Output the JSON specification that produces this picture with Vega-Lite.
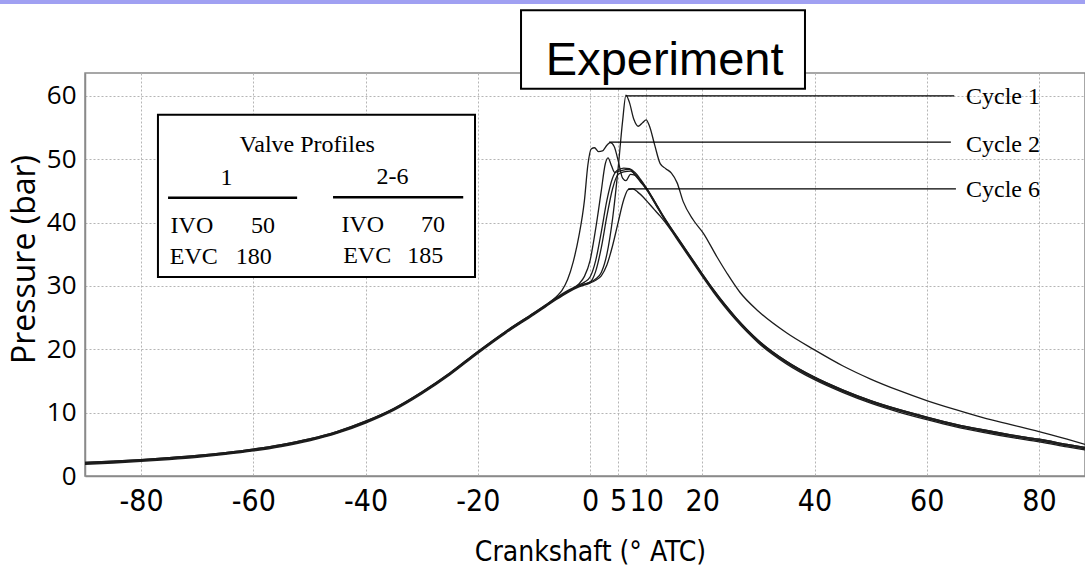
{
  "$schema": "https://vega.github.io/schema/vega-lite/v6.json",
  "width": 1000,
  "height": 403,
  "autosize": "none",
  "padding": {"left": 85, "top": 73, "right": 0, "bottom": 106},
  "background": "white",
  "config": {"view": {"stroke": "#8a8a8a", "strokeWidth": 1.5}},
  "datasets": {
    "cycles": [
      {"cycle":"Cycle 1","angle":-90,"pressure":2.0},{"cycle":"Cycle 1","angle":-85,"pressure":2.2},{"cycle":"Cycle 1","angle":-80,"pressure":2.45},{"cycle":"Cycle 1","angle":-75,"pressure":2.75},{"cycle":"Cycle 1","angle":-70,"pressure":3.1},{"cycle":"Cycle 1","angle":-65,"pressure":3.55},{"cycle":"Cycle 1","angle":-60,"pressure":4.1},{"cycle":"Cycle 1","angle":-55,"pressure":4.8},{"cycle":"Cycle 1","angle":-50,"pressure":5.7},{"cycle":"Cycle 1","angle":-45,"pressure":6.9},{"cycle":"Cycle 1","angle":-40,"pressure":8.5},{"cycle":"Cycle 1","angle":-35,"pressure":10.5},{"cycle":"Cycle 1","angle":-30,"pressure":13.1},{"cycle":"Cycle 1","angle":-25,"pressure":16.1},{"cycle":"Cycle 1","angle":-20,"pressure":19.5},{"cycle":"Cycle 1","angle":-15,"pressure":22.7},{"cycle":"Cycle 1","angle":-10,"pressure":25.6},{"cycle":"Cycle 1","angle":-8,"pressure":26.8},{"cycle":"Cycle 1","angle":-6,"pressure":28.0},{"cycle":"Cycle 1","angle":-4,"pressure":29.1},{"cycle":"Cycle 1","angle":-2,"pressure":30.0},{"cycle":"Cycle 1","angle":0,"pressure":30.6},{"cycle":"Cycle 1","angle":1,"pressure":31.1},{"cycle":"Cycle 1","angle":2,"pressure":32.1},{"cycle":"Cycle 1","angle":3,"pressure":35.0},{"cycle":"Cycle 1","angle":4,"pressure":40.5},{"cycle":"Cycle 1","angle":5,"pressure":48.5},{"cycle":"Cycle 1","angle":5.8,"pressure":56.0},{"cycle":"Cycle 1","angle":6.4,"pressure":60.1},{"cycle":"Cycle 1","angle":7.0,"pressure":59.0},{"cycle":"Cycle 1","angle":7.8,"pressure":56.3},{"cycle":"Cycle 1","angle":8.6,"pressure":55.2},{"cycle":"Cycle 1","angle":9.4,"pressure":55.8},{"cycle":"Cycle 1","angle":10.0,"pressure":56.2},{"cycle":"Cycle 1","angle":10.6,"pressure":55.2},{"cycle":"Cycle 1","angle":11.5,"pressure":52.3},{"cycle":"Cycle 1","angle":12.5,"pressure":49.3},{"cycle":"Cycle 1","angle":13.5,"pressure":48.5},{"cycle":"Cycle 1","angle":14.5,"pressure":47.8},{"cycle":"Cycle 1","angle":15.5,"pressure":46.3},{"cycle":"Cycle 1","angle":16.6,"pressure":43.3},{"cycle":"Cycle 1","angle":18.4,"pressure":40.4},{"cycle":"Cycle 1","angle":20.2,"pressure":38.3},{"cycle":"Cycle 1","angle":22.6,"pressure":34.6},{"cycle":"Cycle 1","angle":24.4,"pressure":32.0},{"cycle":"Cycle 1","angle":26.7,"pressure":29.0},{"cycle":"Cycle 1","angle":30,"pressure":26.0},{"cycle":"Cycle 1","angle":35,"pressure":22.6},{"cycle":"Cycle 1","angle":40,"pressure":19.9},{"cycle":"Cycle 1","angle":45,"pressure":17.4},{"cycle":"Cycle 1","angle":50,"pressure":15.3},{"cycle":"Cycle 1","angle":55,"pressure":13.5},{"cycle":"Cycle 1","angle":60,"pressure":11.9},{"cycle":"Cycle 1","angle":65,"pressure":10.5},{"cycle":"Cycle 1","angle":70,"pressure":9.2},{"cycle":"Cycle 1","angle":75,"pressure":8.1},{"cycle":"Cycle 1","angle":80,"pressure":7.0},{"cycle":"Cycle 1","angle":85,"pressure":5.8},{"cycle":"Cycle 1","angle":88.2,"pressure":5.0},

      {"cycle":"Cycle 2","angle":-90,"pressure":2.15},{"cycle":"Cycle 2","angle":-85,"pressure":2.35},{"cycle":"Cycle 2","angle":-80,"pressure":2.6},{"cycle":"Cycle 2","angle":-75,"pressure":2.9},{"cycle":"Cycle 2","angle":-70,"pressure":3.25},{"cycle":"Cycle 2","angle":-65,"pressure":3.7},{"cycle":"Cycle 2","angle":-60,"pressure":4.25},{"cycle":"Cycle 2","angle":-55,"pressure":4.95},{"cycle":"Cycle 2","angle":-50,"pressure":5.85},{"cycle":"Cycle 2","angle":-45,"pressure":7.05},{"cycle":"Cycle 2","angle":-40,"pressure":8.65},{"cycle":"Cycle 2","angle":-35,"pressure":10.65},{"cycle":"Cycle 2","angle":-30,"pressure":13.25},{"cycle":"Cycle 2","angle":-25,"pressure":16.25},{"cycle":"Cycle 2","angle":-20,"pressure":19.65},{"cycle":"Cycle 2","angle":-15,"pressure":22.85},{"cycle":"Cycle 2","angle":-10,"pressure":25.75},{"cycle":"Cycle 2","angle":-8,"pressure":26.95},{"cycle":"Cycle 2","angle":-6,"pressure":28.3},{"cycle":"Cycle 2","angle":-5,"pressure":29.3},{"cycle":"Cycle 2","angle":-4,"pressure":31.0},{"cycle":"Cycle 2","angle":-3,"pressure":33.8},{"cycle":"Cycle 2","angle":-2,"pressure":37.8},{"cycle":"Cycle 2","angle":-1,"pressure":43.5},{"cycle":"Cycle 2","angle":-0.4,"pressure":49.0},{"cycle":"Cycle 2","angle":0.2,"pressure":51.6},{"cycle":"Cycle 2","angle":0.8,"pressure":51.8},{"cycle":"Cycle 2","angle":1.5,"pressure":51.2},{"cycle":"Cycle 2","angle":2.2,"pressure":51.3},{"cycle":"Cycle 2","angle":3.0,"pressure":52.2},{"cycle":"Cycle 2","angle":3.6,"pressure":52.6},{"cycle":"Cycle 2","angle":4.3,"pressure":52.0},{"cycle":"Cycle 2","angle":5.0,"pressure":49.8},{"cycle":"Cycle 2","angle":5.8,"pressure":47.0},{"cycle":"Cycle 2","angle":6.4,"pressure":46.6},{"cycle":"Cycle 2","angle":7.2,"pressure":47.6},{"cycle":"Cycle 2","angle":8,"pressure":47.5},{"cycle":"Cycle 2","angle":9,"pressure":46.6},{"cycle":"Cycle 2","angle":10,"pressure":45.5},{"cycle":"Cycle 2","angle":11,"pressure":44.1},{"cycle":"Cycle 2","angle":12,"pressure":42.6},{"cycle":"Cycle 2","angle":13,"pressure":41.1},{"cycle":"Cycle 2","angle":14,"pressure":39.7},{"cycle":"Cycle 2","angle":16,"pressure":37.1},{"cycle":"Cycle 2","angle":18,"pressure":34.5},{"cycle":"Cycle 2","angle":20,"pressure":31.9},{"cycle":"Cycle 2","angle":22,"pressure":29.4},{"cycle":"Cycle 2","angle":24,"pressure":27.1},{"cycle":"Cycle 2","angle":26,"pressure":25.0},{"cycle":"Cycle 2","angle":28,"pressure":23.1},{"cycle":"Cycle 2","angle":30,"pressure":21.4},{"cycle":"Cycle 2","angle":35,"pressure":18.1},{"cycle":"Cycle 2","angle":40,"pressure":15.6},{"cycle":"Cycle 2","angle":45,"pressure":13.6},{"cycle":"Cycle 2","angle":50,"pressure":11.9},{"cycle":"Cycle 2","angle":55,"pressure":10.5},{"cycle":"Cycle 2","angle":60,"pressure":9.3},{"cycle":"Cycle 2","angle":65,"pressure":8.2},{"cycle":"Cycle 2","angle":70,"pressure":7.3},{"cycle":"Cycle 2","angle":75,"pressure":6.5},{"cycle":"Cycle 2","angle":80,"pressure":5.8},{"cycle":"Cycle 2","angle":85,"pressure":5.0},{"cycle":"Cycle 2","angle":88.2,"pressure":4.5},

      {"cycle":"Cycle 3","angle":-90,"pressure":2.0},{"cycle":"Cycle 3","angle":-85,"pressure":2.2},{"cycle":"Cycle 3","angle":-80,"pressure":2.45},{"cycle":"Cycle 3","angle":-75,"pressure":2.75},{"cycle":"Cycle 3","angle":-70,"pressure":3.1},{"cycle":"Cycle 3","angle":-65,"pressure":3.55},{"cycle":"Cycle 3","angle":-60,"pressure":4.1},{"cycle":"Cycle 3","angle":-55,"pressure":4.8},{"cycle":"Cycle 3","angle":-50,"pressure":5.7},{"cycle":"Cycle 3","angle":-45,"pressure":6.9},{"cycle":"Cycle 3","angle":-40,"pressure":8.5},{"cycle":"Cycle 3","angle":-35,"pressure":10.5},{"cycle":"Cycle 3","angle":-30,"pressure":13.1},{"cycle":"Cycle 3","angle":-25,"pressure":16.1},{"cycle":"Cycle 3","angle":-20,"pressure":19.5},{"cycle":"Cycle 3","angle":-15,"pressure":22.7},{"cycle":"Cycle 3","angle":-10,"pressure":25.6},{"cycle":"Cycle 3","angle":-8,"pressure":26.8},{"cycle":"Cycle 3","angle":-6,"pressure":28.0},{"cycle":"Cycle 3","angle":-4,"pressure":29.1},{"cycle":"Cycle 3","angle":-3,"pressure":29.6},{"cycle":"Cycle 3","angle":-2,"pressure":30.3},{"cycle":"Cycle 3","angle":-1,"pressure":31.5},{"cycle":"Cycle 3","angle":0,"pressure":34.0},{"cycle":"Cycle 3","angle":1,"pressure":39.0},{"cycle":"Cycle 3","angle":2,"pressure":45.0},{"cycle":"Cycle 3","angle":2.7,"pressure":49.2},{"cycle":"Cycle 3","angle":3.2,"pressure":50.2},{"cycle":"Cycle 3","angle":3.8,"pressure":49.0},{"cycle":"Cycle 3","angle":4.4,"pressure":47.9},{"cycle":"Cycle 3","angle":5.5,"pressure":48.2},{"cycle":"Cycle 3","angle":7,"pressure":48.4},{"cycle":"Cycle 3","angle":8,"pressure":47.6},{"cycle":"Cycle 3","angle":9,"pressure":46.5},{"cycle":"Cycle 3","angle":10,"pressure":45.3},{"cycle":"Cycle 3","angle":11,"pressure":43.9},{"cycle":"Cycle 3","angle":12,"pressure":42.4},{"cycle":"Cycle 3","angle":13,"pressure":40.9},{"cycle":"Cycle 3","angle":14,"pressure":39.5},{"cycle":"Cycle 3","angle":16,"pressure":36.9},{"cycle":"Cycle 3","angle":18,"pressure":34.3},{"cycle":"Cycle 3","angle":20,"pressure":31.7},{"cycle":"Cycle 3","angle":22,"pressure":29.2},{"cycle":"Cycle 3","angle":24,"pressure":26.9},{"cycle":"Cycle 3","angle":26,"pressure":24.8},{"cycle":"Cycle 3","angle":28,"pressure":22.9},{"cycle":"Cycle 3","angle":30,"pressure":21.2},{"cycle":"Cycle 3","angle":35,"pressure":17.9},{"cycle":"Cycle 3","angle":40,"pressure":15.4},{"cycle":"Cycle 3","angle":45,"pressure":13.4},{"cycle":"Cycle 3","angle":50,"pressure":11.7},{"cycle":"Cycle 3","angle":55,"pressure":10.3},{"cycle":"Cycle 3","angle":60,"pressure":9.1},{"cycle":"Cycle 3","angle":65,"pressure":8.0},{"cycle":"Cycle 3","angle":70,"pressure":7.1},{"cycle":"Cycle 3","angle":75,"pressure":6.3},{"cycle":"Cycle 3","angle":80,"pressure":5.6},{"cycle":"Cycle 3","angle":85,"pressure":4.8},{"cycle":"Cycle 3","angle":88.2,"pressure":4.3},

      {"cycle":"Cycle 4","angle":-90,"pressure":2.15},{"cycle":"Cycle 4","angle":-85,"pressure":2.35},{"cycle":"Cycle 4","angle":-80,"pressure":2.6},{"cycle":"Cycle 4","angle":-75,"pressure":2.9},{"cycle":"Cycle 4","angle":-70,"pressure":3.25},{"cycle":"Cycle 4","angle":-65,"pressure":3.7},{"cycle":"Cycle 4","angle":-60,"pressure":4.25},{"cycle":"Cycle 4","angle":-55,"pressure":4.95},{"cycle":"Cycle 4","angle":-50,"pressure":5.85},{"cycle":"Cycle 4","angle":-45,"pressure":7.05},{"cycle":"Cycle 4","angle":-40,"pressure":8.65},{"cycle":"Cycle 4","angle":-35,"pressure":10.65},{"cycle":"Cycle 4","angle":-30,"pressure":13.25},{"cycle":"Cycle 4","angle":-25,"pressure":16.25},{"cycle":"Cycle 4","angle":-20,"pressure":19.65},{"cycle":"Cycle 4","angle":-15,"pressure":22.85},{"cycle":"Cycle 4","angle":-10,"pressure":25.75},{"cycle":"Cycle 4","angle":-8,"pressure":26.95},{"cycle":"Cycle 4","angle":-6,"pressure":28.15},{"cycle":"Cycle 4","angle":-4,"pressure":29.25},{"cycle":"Cycle 4","angle":-2,"pressure":30.15},{"cycle":"Cycle 4","angle":-1,"pressure":30.6},{"cycle":"Cycle 4","angle":0,"pressure":31.4},{"cycle":"Cycle 4","angle":1,"pressure":34.0},{"cycle":"Cycle 4","angle":2,"pressure":38.5},{"cycle":"Cycle 4","angle":3,"pressure":43.5},{"cycle":"Cycle 4","angle":4,"pressure":47.0},{"cycle":"Cycle 4","angle":4.8,"pressure":48.2},{"cycle":"Cycle 4","angle":6,"pressure":48.6},{"cycle":"Cycle 4","angle":7,"pressure":48.5},{"cycle":"Cycle 4","angle":8,"pressure":47.9},{"cycle":"Cycle 4","angle":9,"pressure":46.8},{"cycle":"Cycle 4","angle":10,"pressure":45.5},{"cycle":"Cycle 4","angle":11,"pressure":44.1},{"cycle":"Cycle 4","angle":12,"pressure":42.6},{"cycle":"Cycle 4","angle":13,"pressure":41.1},{"cycle":"Cycle 4","angle":14,"pressure":39.7},{"cycle":"Cycle 4","angle":16,"pressure":37.1},{"cycle":"Cycle 4","angle":18,"pressure":34.5},{"cycle":"Cycle 4","angle":20,"pressure":31.9},{"cycle":"Cycle 4","angle":22,"pressure":29.4},{"cycle":"Cycle 4","angle":24,"pressure":27.1},{"cycle":"Cycle 4","angle":26,"pressure":25.0},{"cycle":"Cycle 4","angle":28,"pressure":23.1},{"cycle":"Cycle 4","angle":30,"pressure":21.4},{"cycle":"Cycle 4","angle":35,"pressure":18.1},{"cycle":"Cycle 4","angle":40,"pressure":15.6},{"cycle":"Cycle 4","angle":45,"pressure":13.6},{"cycle":"Cycle 4","angle":50,"pressure":11.9},{"cycle":"Cycle 4","angle":55,"pressure":10.5},{"cycle":"Cycle 4","angle":60,"pressure":9.3},{"cycle":"Cycle 4","angle":65,"pressure":8.2},{"cycle":"Cycle 4","angle":70,"pressure":7.3},{"cycle":"Cycle 4","angle":75,"pressure":6.5},{"cycle":"Cycle 4","angle":80,"pressure":5.8},{"cycle":"Cycle 4","angle":85,"pressure":5.0},{"cycle":"Cycle 4","angle":88.2,"pressure":4.5},

      {"cycle":"Cycle 5","angle":-90,"pressure":2.0},{"cycle":"Cycle 5","angle":-85,"pressure":2.2},{"cycle":"Cycle 5","angle":-80,"pressure":2.45},{"cycle":"Cycle 5","angle":-75,"pressure":2.75},{"cycle":"Cycle 5","angle":-70,"pressure":3.1},{"cycle":"Cycle 5","angle":-65,"pressure":3.55},{"cycle":"Cycle 5","angle":-60,"pressure":4.1},{"cycle":"Cycle 5","angle":-55,"pressure":4.8},{"cycle":"Cycle 5","angle":-50,"pressure":5.7},{"cycle":"Cycle 5","angle":-45,"pressure":6.9},{"cycle":"Cycle 5","angle":-40,"pressure":8.5},{"cycle":"Cycle 5","angle":-35,"pressure":10.5},{"cycle":"Cycle 5","angle":-30,"pressure":13.1},{"cycle":"Cycle 5","angle":-25,"pressure":16.1},{"cycle":"Cycle 5","angle":-20,"pressure":19.5},{"cycle":"Cycle 5","angle":-15,"pressure":22.7},{"cycle":"Cycle 5","angle":-10,"pressure":25.6},{"cycle":"Cycle 5","angle":-8,"pressure":26.8},{"cycle":"Cycle 5","angle":-6,"pressure":28.0},{"cycle":"Cycle 5","angle":-4,"pressure":29.1},{"cycle":"Cycle 5","angle":-2,"pressure":30.0},{"cycle":"Cycle 5","angle":0,"pressure":30.6},{"cycle":"Cycle 5","angle":1,"pressure":32.3},{"cycle":"Cycle 5","angle":2,"pressure":36.0},{"cycle":"Cycle 5","angle":3,"pressure":41.0},{"cycle":"Cycle 5","angle":4,"pressure":45.3},{"cycle":"Cycle 5","angle":5,"pressure":47.6},{"cycle":"Cycle 5","angle":6,"pressure":48.0},{"cycle":"Cycle 5","angle":7.2,"pressure":48.1},{"cycle":"Cycle 5","angle":8.2,"pressure":47.3},{"cycle":"Cycle 5","angle":9,"pressure":46.4},{"cycle":"Cycle 5","angle":10,"pressure":45.3},{"cycle":"Cycle 5","angle":11,"pressure":43.9},{"cycle":"Cycle 5","angle":12,"pressure":42.4},{"cycle":"Cycle 5","angle":13,"pressure":40.9},{"cycle":"Cycle 5","angle":14,"pressure":39.5},{"cycle":"Cycle 5","angle":16,"pressure":36.9},{"cycle":"Cycle 5","angle":18,"pressure":34.3},{"cycle":"Cycle 5","angle":20,"pressure":31.7},{"cycle":"Cycle 5","angle":22,"pressure":29.2},{"cycle":"Cycle 5","angle":24,"pressure":26.9},{"cycle":"Cycle 5","angle":26,"pressure":24.8},{"cycle":"Cycle 5","angle":28,"pressure":22.9},{"cycle":"Cycle 5","angle":30,"pressure":21.2},{"cycle":"Cycle 5","angle":35,"pressure":17.9},{"cycle":"Cycle 5","angle":40,"pressure":15.4},{"cycle":"Cycle 5","angle":45,"pressure":13.4},{"cycle":"Cycle 5","angle":50,"pressure":11.7},{"cycle":"Cycle 5","angle":55,"pressure":10.3},{"cycle":"Cycle 5","angle":60,"pressure":9.1},{"cycle":"Cycle 5","angle":65,"pressure":8.0},{"cycle":"Cycle 5","angle":70,"pressure":7.1},{"cycle":"Cycle 5","angle":75,"pressure":6.3},{"cycle":"Cycle 5","angle":80,"pressure":5.6},{"cycle":"Cycle 5","angle":85,"pressure":4.8},{"cycle":"Cycle 5","angle":88.2,"pressure":4.3},

      {"cycle":"Cycle 6","angle":-90,"pressure":1.85},{"cycle":"Cycle 6","angle":-85,"pressure":2.05},{"cycle":"Cycle 6","angle":-80,"pressure":2.3},{"cycle":"Cycle 6","angle":-75,"pressure":2.6},{"cycle":"Cycle 6","angle":-70,"pressure":2.95},{"cycle":"Cycle 6","angle":-65,"pressure":3.4},{"cycle":"Cycle 6","angle":-60,"pressure":3.95},{"cycle":"Cycle 6","angle":-55,"pressure":4.65},{"cycle":"Cycle 6","angle":-50,"pressure":5.55},{"cycle":"Cycle 6","angle":-45,"pressure":6.75},{"cycle":"Cycle 6","angle":-40,"pressure":8.35},{"cycle":"Cycle 6","angle":-35,"pressure":10.35},{"cycle":"Cycle 6","angle":-30,"pressure":12.95},{"cycle":"Cycle 6","angle":-25,"pressure":15.95},{"cycle":"Cycle 6","angle":-20,"pressure":19.35},{"cycle":"Cycle 6","angle":-15,"pressure":22.55},{"cycle":"Cycle 6","angle":-10,"pressure":25.45},{"cycle":"Cycle 6","angle":-8,"pressure":26.65},{"cycle":"Cycle 6","angle":-6,"pressure":27.85},{"cycle":"Cycle 6","angle":-4,"pressure":28.95},{"cycle":"Cycle 6","angle":-2,"pressure":29.85},{"cycle":"Cycle 6","angle":0,"pressure":30.45},{"cycle":"Cycle 6","angle":1,"pressure":30.9},{"cycle":"Cycle 6","angle":2,"pressure":31.6},{"cycle":"Cycle 6","angle":3,"pressure":33.3},{"cycle":"Cycle 6","angle":4,"pressure":36.3},{"cycle":"Cycle 6","angle":5,"pressure":40.0},{"cycle":"Cycle 6","angle":6,"pressure":43.6},{"cycle":"Cycle 6","angle":6.8,"pressure":45.2},{"cycle":"Cycle 6","angle":7.6,"pressure":45.3},{"cycle":"Cycle 6","angle":8.5,"pressure":44.8},{"cycle":"Cycle 6","angle":9.5,"pressure":44.0},{"cycle":"Cycle 6","angle":10.5,"pressure":43.0},{"cycle":"Cycle 6","angle":11.5,"pressure":42.0},{"cycle":"Cycle 6","angle":12.5,"pressure":41.0},{"cycle":"Cycle 6","angle":14,"pressure":39.3},{"cycle":"Cycle 6","angle":16,"pressure":36.7},{"cycle":"Cycle 6","angle":18,"pressure":34.1},{"cycle":"Cycle 6","angle":20,"pressure":31.5},{"cycle":"Cycle 6","angle":22,"pressure":29.0},{"cycle":"Cycle 6","angle":24,"pressure":26.7},{"cycle":"Cycle 6","angle":26,"pressure":24.6},{"cycle":"Cycle 6","angle":28,"pressure":22.7},{"cycle":"Cycle 6","angle":30,"pressure":21.0},{"cycle":"Cycle 6","angle":35,"pressure":17.7},{"cycle":"Cycle 6","angle":40,"pressure":15.2},{"cycle":"Cycle 6","angle":45,"pressure":13.2},{"cycle":"Cycle 6","angle":50,"pressure":11.5},{"cycle":"Cycle 6","angle":55,"pressure":10.1},{"cycle":"Cycle 6","angle":60,"pressure":8.9},{"cycle":"Cycle 6","angle":65,"pressure":7.8},{"cycle":"Cycle 6","angle":70,"pressure":6.9},{"cycle":"Cycle 6","angle":75,"pressure":6.1},{"cycle":"Cycle 6","angle":80,"pressure":5.4},{"cycle":"Cycle 6","angle":85,"pressure":4.6},{"cycle":"Cycle 6","angle":88.2,"pressure":4.1}
    ]
  },
  "encoding": {
    "x": {
      "field": "angle", "type": "quantitative",
      "scale": {"domain": [-90, 88.2], "nice": false, "zero": false},
      "axis": {
        "values": [-80, -60, -40, -20, 0, 5, 10, 20, 40, 60, 80],
        "labelExpr": "replace(datum.label, '\u2212', '-')",
        "title": "Crankshaft (° ATC)",
        "grid": true, "gridColor": "#b5b5b5", "gridDash": [2, 2], "gridWidth": 1,
        "ticks": false, "domainColor": "#8a8a8a", "domainWidth": 1.5,
        "labelFont": "DejaVu Sans Condensed, sans-serif", "labelFontSize": 30, "labelColor": "#000",
        "labelBaseline": "alphabetic", "labelPadding": 34, "labelOverlap": false, "labelFlush": false, "labelBound": false,
        "titleFont": "DejaVu Sans Condensed, sans-serif", "titleFontSize": 28, "titleFontWeight": "normal", "titleColor": "#000",
        "titleBaseline": "alphabetic", "titleX": 505, "titleY": 84
      }
    },
    "y": {
      "field": "pressure", "type": "quantitative",
      "scale": {"domain": [0, 63.6], "nice": false, "zero": false},
      "axis": {
        "values": [0, 10, 20, 30, 40, 50, 60],
        "title": "Pressure (bar)",
        "grid": true, "gridColor": "#b5b5b5", "gridDash": [2, 2], "gridWidth": 1,
        "ticks": false, "domainColor": "#8a8a8a", "domainWidth": 1.5,
        "labelFont": "Open Sans", "labelFontSize": 26, "labelColor": "#000", "labelPadding": 9,
        "titleFont": "Open Sans", "titleFontSize": 32, "titleFontWeight": "normal", "titleColor": "#000",
        "titleBaseline": "alphabetic", "titleX": -51, "titleY": 186, "titleAngle": -90
      }
    }
  },
  "layer": [
    {
      "data": {"values": [{"angle": -105.2, "angle2": 88.2, "pressure": 74.5, "pressure2": 75.6}]},
      "mark": {"type": "rect", "color": "#a0a0f2", "clip": false},
      "encoding": {"x2": {"field": "angle2"}, "y2": {"field": "pressure2"}}
    },
    {
      "data": {"name": "cycles"},
      "mark": {"type": "line", "interpolate": "monotone", "strokeWidth": 1.3, "color": "#1c1c1c", "clip": true},
      "encoding": {"detail": {"field": "cycle", "type": "nominal"}}
    },
    {
      "data": {"values": [{"angle": -77.0, "angle2": -20.5, "pressure": 31.4, "pressure2": 57.0}]},
      "mark": {"type": "rect", "fill": "white", "stroke": "#000", "strokeWidth": 2, "clip": false},
      "encoding": {"x2": {"field": "angle2"}, "y2": {"field": "pressure2"}}
    },
    {
      "data": {"values": [
        {"angle": -75.2, "angle2": -52.2, "pressure": 43.9},
        {"angle": -45.8, "angle2": -22.6, "pressure": 44.0}
      ]},
      "mark": {"type": "rule", "color": "#000", "strokeWidth": 2.5},
      "encoding": {"x2": {"field": "angle2"}}
    },
    {
      "data": {"values": [
        {"label": "Valve Profiles", "angle": -50.4, "pressure": 51.1},
        {"label": "1", "angle": -64.8, "pressure": 45.9},
        {"label": "2-6", "angle": -35.2, "pressure": 46.1}
      ]},
      "mark": {"type": "text", "align": "center", "baseline": "alphabetic", "font": "Liberation Serif", "fontSize": 24, "color": "#000"},
      "encoding": {"text": {"field": "label"}}
    },
    {
      "data": {"values": [
        {"label": "IVO", "angle": -74.75, "pressure": 38.35},
        {"label": "EVC", "angle": -74.9, "pressure": 33.46},
        {"label": "IVO", "angle": -44.3, "pressure": 38.5},
        {"label": "EVC", "angle": -44.0, "pressure": 33.6}
      ]},
      "mark": {"type": "text", "align": "left", "baseline": "alphabetic", "font": "Liberation Serif", "fontSize": 24, "color": "#000"},
      "encoding": {"text": {"field": "label"}}
    },
    {
      "data": {"values": [
        {"label": "50", "angle": -56.15, "pressure": 38.35},
        {"label": "180", "angle": -56.7, "pressure": 33.46},
        {"label": "70", "angle": -25.85, "pressure": 38.5},
        {"label": "185", "angle": -26.15, "pressure": 33.6}
      ]},
      "mark": {"type": "text", "align": "right", "baseline": "alphabetic", "font": "Liberation Serif", "fontSize": 24, "color": "#000"},
      "encoding": {"text": {"field": "label"}}
    },
    {
      "data": {"values": [
        {"angle": 6.4, "angle2": 64.9, "pressure": 60.0},
        {"angle": 3.4, "angle2": 64.3, "pressure": 52.7},
        {"angle": 6.8, "angle2": 65.2, "pressure": 45.3}
      ]},
      "mark": {"type": "rule", "color": "#000", "strokeWidth": 1.2},
      "encoding": {"x2": {"field": "angle2"}}
    },
    {
      "data": {"values": [
        {"label": "Cycle 1", "angle": 67.0, "pressure": 58.7},
        {"label": "Cycle 2", "angle": 67.0, "pressure": 51.1},
        {"label": "Cycle 6", "angle": 67.0, "pressure": 44.0}
      ]},
      "mark": {"type": "text", "align": "left", "baseline": "alphabetic", "font": "Liberation Serif", "fontSize": 24, "color": "#000"},
      "encoding": {"text": {"field": "label"}}
    },
    {
      "data": {"values": [{"angle": -12.3, "angle2": 38.3, "pressure": 61.1, "pressure2": 73.5}]},
      "mark": {"type": "rect", "fill": "white", "stroke": "#000", "strokeWidth": 2, "clip": false},
      "encoding": {"x2": {"field": "angle2"}, "y2": {"field": "pressure2"}}
    },
    {
      "data": {"values": [{"label": "Experiment", "angle": 13.3, "pressure": 63.3}]},
      "mark": {"type": "text", "align": "center", "baseline": "alphabetic", "font": "Liberation Sans", "fontSize": 47, "color": "#000", "clip": false},
      "encoding": {"text": {"field": "label"}}
    }
  ]
}
